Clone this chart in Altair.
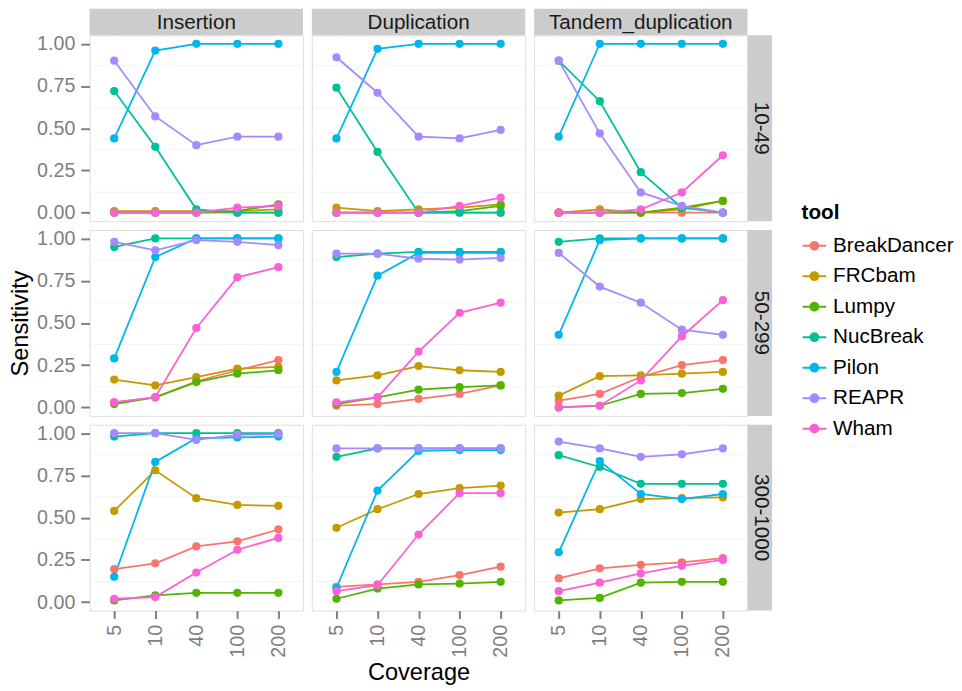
import altair as alt
import pandas as pd

coverage = ["5", "10", "40", "100", "200"]
tools = ["BreakDancer", "FRCbam", "Lumpy", "NucBreak", "Pilon", "REAPR", "Wham"]
tool_colors = ["#F8766D", "#C49A00", "#53B400", "#00C094", "#00B6EB", "#A58AFF", "#FB61D7"]
sv_types = ["Insertion", "Duplication", "Tandem_duplication"]
sv_sizes = ["10-49", "50-299", "300-1000"]

# Sensitivity per tool, values for coverage 5, 10, 40, 100, 200
ins_10_49 = {
    "BreakDancer": [0.00, 0.00, 0.00, 0.00, 0.00],
    "FRCbam": [0.01, 0.01, 0.01, 0.01, 0.02],
    "Lumpy": [0.00, 0.00, 0.00, 0.01, 0.05],
    "NucBreak": [0.72, 0.39, 0.02, 0.00, 0.00],
    "Pilon": [0.44, 0.96, 1.00, 1.00, 1.00],
    "REAPR": [0.90, 0.57, 0.40, 0.45, 0.45],
    "Wham": [0.00, 0.00, 0.00, 0.03, 0.04],
}
dup_10_49 = {
    "BreakDancer": [0.00, 0.00, 0.00, 0.00, 0.00],
    "FRCbam": [0.03, 0.01, 0.02, 0.03, 0.05],
    "Lumpy": [0.00, 0.00, 0.00, 0.01, 0.04],
    "NucBreak": [0.74, 0.36, 0.00, 0.00, 0.00],
    "Pilon": [0.44, 0.97, 1.00, 1.00, 1.00],
    "REAPR": [0.92, 0.71, 0.45, 0.44, 0.49],
    "Wham": [0.00, 0.00, 0.00, 0.04, 0.09],
}
tan_10_49 = {
    "BreakDancer": [0.00, 0.00, 0.00, 0.00, 0.00],
    "FRCbam": [0.00, 0.02, 0.00, 0.02, 0.07],
    "Lumpy": [0.00, 0.00, 0.00, 0.03, 0.07],
    "NucBreak": [0.90, 0.66, 0.24, 0.03, 0.00],
    "Pilon": [0.45, 1.00, 1.00, 1.00, 1.00],
    "REAPR": [0.90, 0.47, 0.12, 0.04, 0.00],
    "Wham": [0.00, 0.00, 0.02, 0.12, 0.34],
}
ins_50_299 = {
    "BreakDancer": [0.03, 0.06, 0.155, 0.22, 0.28],
    "FRCbam": [0.165, 0.13, 0.18, 0.23, 0.24],
    "Lumpy": [0.02, 0.06, 0.15, 0.20, 0.22],
    "NucBreak": [0.95, 1.00, 1.00, 1.00, 1.00],
    "Pilon": [0.29, 0.89, 1.00, 1.00, 1.00],
    "REAPR": [0.98, 0.93, 0.99, 0.98, 0.96],
    "Wham": [0.03, 0.06, 0.47, 0.77, 0.83],
}
dup_50_299 = {
    "BreakDancer": [0.01, 0.02, 0.05, 0.08, 0.13],
    "FRCbam": [0.16, 0.19, 0.245, 0.22, 0.21],
    "Lumpy": [0.02, 0.06, 0.105, 0.12, 0.13],
    "NucBreak": [0.89, 0.91, 0.92, 0.92, 0.92],
    "Pilon": [0.21, 0.78, 0.915, 0.915, 0.915],
    "REAPR": [0.91, 0.91, 0.88, 0.875, 0.885],
    "Wham": [0.03, 0.06, 0.33, 0.56, 0.62],
}
tan_50_299 = {
    "BreakDancer": [0.04, 0.08, 0.18, 0.25, 0.28],
    "FRCbam": [0.07, 0.185, 0.19, 0.20, 0.21],
    "Lumpy": [0.00, 0.01, 0.08, 0.085, 0.11],
    "NucBreak": [0.98, 1.00, 1.00, 1.00, 1.00],
    "Pilon": [0.43, 0.99, 1.00, 1.00, 1.00],
    "REAPR": [0.915, 0.715, 0.62, 0.46, 0.43],
    "Wham": [0.00, 0.01, 0.16, 0.42, 0.635],
}
ins_300_1000 = {
    "BreakDancer": [0.195, 0.23, 0.33, 0.36, 0.43],
    "FRCbam": [0.54, 0.78, 0.615, 0.575, 0.57],
    "Lumpy": [0.01, 0.04, 0.055, 0.055, 0.055],
    "NucBreak": [0.98, 1.00, 1.00, 1.00, 1.00],
    "Pilon": [0.15, 0.83, 0.97, 0.975, 0.98],
    "REAPR": [1.00, 1.00, 0.96, 0.99, 0.995],
    "Wham": [0.02, 0.03, 0.175, 0.31, 0.38],
}
dup_300_1000 = {
    "BreakDancer": [0.09, 0.105, 0.12, 0.16, 0.21],
    "FRCbam": [0.44, 0.55, 0.64, 0.675, 0.69],
    "Lumpy": [0.02, 0.08, 0.105, 0.11, 0.12],
    "NucBreak": [0.86, 0.91, 0.91, 0.91, 0.91],
    "Pilon": [0.085, 0.66, 0.895, 0.90, 0.90],
    "REAPR": [0.91, 0.91, 0.91, 0.91, 0.91],
    "Wham": [0.065, 0.10, 0.40, 0.645, 0.645],
}
tan_300_1000 = {
    "BreakDancer": [0.14, 0.20, 0.22, 0.235, 0.26],
    "FRCbam": [0.53, 0.55, 0.61, 0.615, 0.62],
    "Lumpy": [0.01, 0.025, 0.115, 0.12, 0.12],
    "NucBreak": [0.87, 0.80, 0.70, 0.70, 0.70],
    "Pilon": [0.295, 0.835, 0.64, 0.61, 0.64],
    "REAPR": [0.95, 0.91, 0.86, 0.875, 0.91],
    "Wham": [0.065, 0.115, 0.17, 0.215, 0.25],
}

panels = {
    ("10-49", "Insertion"): ins_10_49,
    ("10-49", "Duplication"): dup_10_49,
    ("10-49", "Tandem_duplication"): tan_10_49,
    ("50-299", "Insertion"): ins_50_299,
    ("50-299", "Duplication"): dup_50_299,
    ("50-299", "Tandem_duplication"): tan_50_299,
    ("300-1000", "Insertion"): ins_300_1000,
    ("300-1000", "Duplication"): dup_300_1000,
    ("300-1000", "Tandem_duplication"): tan_300_1000,
}

y_major = [0, 0.25, 0.5, 0.75, 1.0]
y_minor = [0.125, 0.375, 0.625, 0.875]

W, H = 217, 189
STRIP = 27
FONT = "Liberation Sans"
GREY_TXT = "#7F7F7F"

legend_symbol = ("M-1,0L1,0M-0.33,0A0.33,0.33,0,1,1,0.33,0"
                 "A0.33,0.33,0,1,1,-0.33,0Z")


def panel(r, c):
    size, typ = sv_sizes[r], sv_types[c]
    vals = panels[(size, typ)]
    rows = []
    for t in tools:
        for cv, v in zip(coverage, vals[t]):
            rows.append({"tool": t, "coverage": cv, "value": v})
    d = pd.DataFrame(rows)

    show_x = r == 2
    show_y = c == 0
    xaxis = alt.Axis(
        title="Coverage" if show_x else "",
        titleOpacity=1 if (show_x and c == 1) else 0,
        labels=show_x, ticks=show_x, domain=False,
        grid=True, gridColor="white", gridWidth=2,
        labelAngle=270, labelFontSize=20, labelColor=GREY_TXT,
        tickColor=GREY_TXT, tickSize=8, tickWidth=2, labelPadding=6,
        titleFontSize=24, titleFontWeight="normal", titleColor="black",
        titlePadding=4,
    )
    yaxis = alt.Axis(
        title="Sensitivity" if show_y else "",
        titleOpacity=1 if (show_y and r == 1) else 0,
        values=y_major, format=".2f",
        labels=show_y, ticks=show_y, domain=False,
        grid=True, gridColor="white", gridWidth=2,
        labelFontSize=20, labelColor=GREY_TXT,
        tickColor=GREY_TXT, tickSize=9, tickWidth=2, labelPadding=6,
        titleFontSize=24, titleFontWeight="normal", titleColor="black",
        titlePadding=4,
    )
    yminor = alt.Axis(
        title="", values=y_minor, labels=False, ticks=False, domain=False,
        grid=True, gridColor="#F3F3F3", gridWidth=1,
    )
    xs = alt.X("coverage:O", sort=coverage,
               scale=alt.Scale(type="point", padding=0.6, domain=coverage),
               axis=xaxis)
    ysc = alt.Scale(domain=[-0.05, 1.05], nice=False, zero=False)
    color = alt.Color(
        "tool:N",
        scale=alt.Scale(domain=tools, range=tool_colors),
        legend=alt.Legend(
            title="tool", orient="none", legendX=724, legendY=170,
            titleFontSize=21, titleFontWeight="bold", titleColor="black",
            labelFontSize=21, labelColor="black", titlePadding=10,
            symbolType=legend_symbol, symbolSize=576, symbolStrokeWidth=2,
            rowPadding=8, labelOffset=6, padding=0,
        ),
    )
    base = alt.Chart(d)
    minor = base.mark_line(opacity=0).encode(
        x=xs, y=alt.Y("value:Q", scale=ysc, axis=yminor))
    lines = base.mark_line(strokeWidth=1.8).encode(
        x=xs, y=alt.Y("value:Q", scale=ysc, axis=yaxis), color=color)
    pts = base.mark_point(filled=True, size=70, opacity=1).encode(
        x=xs, y=alt.Y("value:Q", scale=ysc, axis=None), color=color)

    layers = [lines, minor, pts]
    if r == 0:
        sd = pd.DataFrame({"label": [typ]})
        layers.append(alt.Chart(sd).mark_rect(color="#CCCCCC").encode(
            x=alt.value(0), x2=alt.value(W), y=alt.value(-STRIP), y2=alt.value(0)))
        layers.append(alt.Chart(sd).mark_text(fontSize=21, color="#1A1A1A", font=FONT).encode(
            text="label:N", x=alt.value(W / 2), y=alt.value(-STRIP / 2 + 1)))
    if c == 2:
        sd = pd.DataFrame({"label": [size]})
        layers.append(alt.Chart(sd).mark_rect(color="#CCCCCC").encode(
            x=alt.value(W), x2=alt.value(W + 25), y=alt.value(0), y2=alt.value(H)))
        layers.append(alt.Chart(sd).mark_text(fontSize=21, color="#1A1A1A", font=FONT, angle=90).encode(
            text="label:N", x=alt.value(W + 13.5), y=alt.value(H / 2)))
    return alt.layer(*layers).resolve_axis(y="independent").properties(width=W, height=H)


cells = [panel(r, c) for r in range(3) for c in range(3)]

chart = alt.concat(*cells, columns=3, spacing={"row": 5, "column": 7}).properties(
    padding={"left": 0, "top": -6, "right": 0, "bottom": 0}
).configure_view(
    fill="#E5E5E5", strokeWidth=0
).configure(
    font=FONT
)

chart.save("out.html", embed_options={"renderer": "svg", "actions": False})
